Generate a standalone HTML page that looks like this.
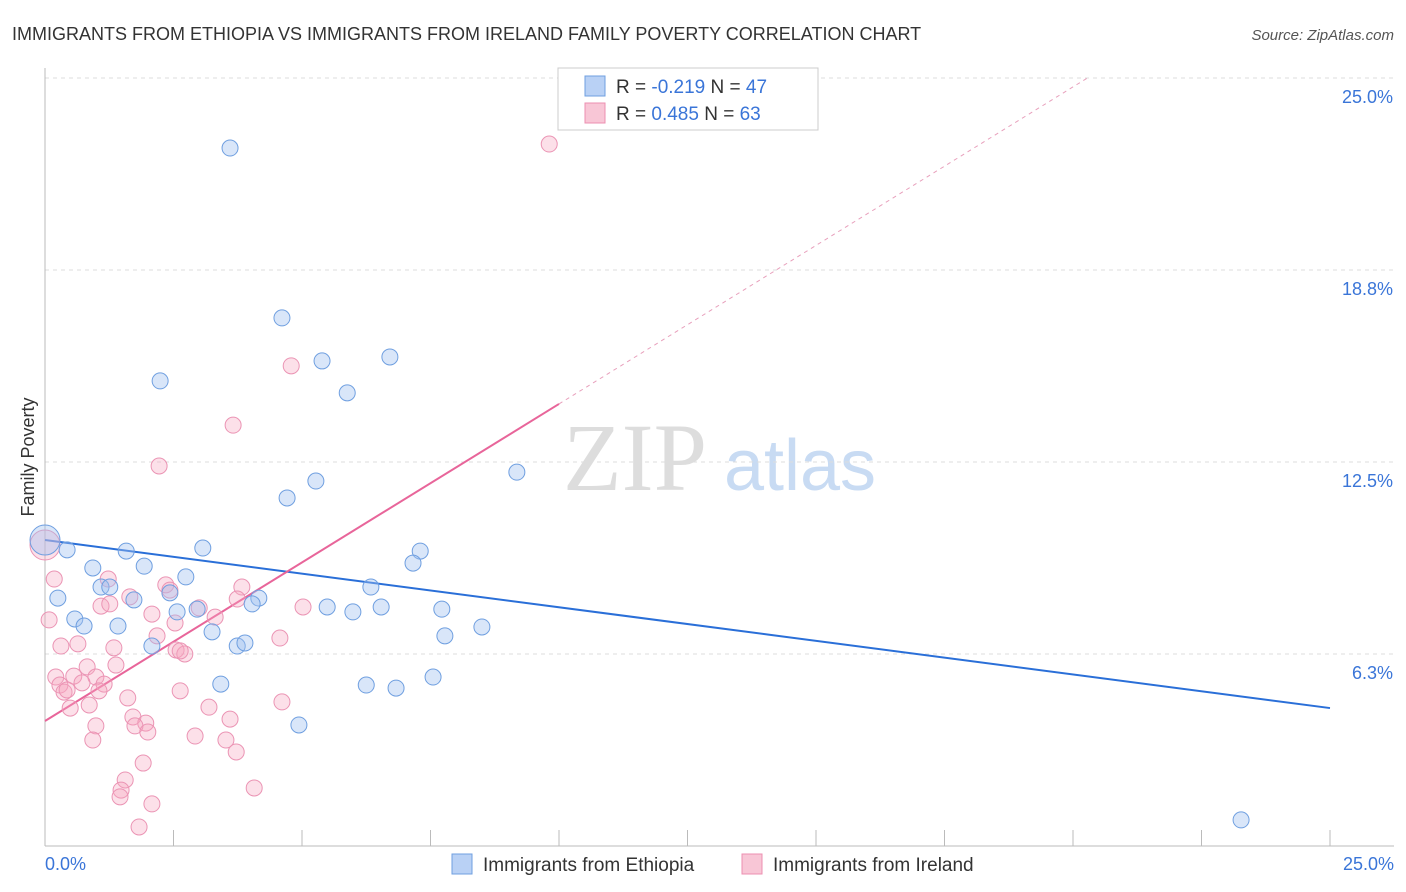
<!DOCTYPE html>
<html><head><meta charset="utf-8"><style>
body{margin:0;background:#fff;font-family:"Liberation Sans",sans-serif;}
#wrap{position:relative;width:1406px;height:892px;overflow:hidden}
</style></head><body>
<div id="wrap">
<svg id="svg" width="1406" height="892" xmlns="http://www.w3.org/2000/svg">
<text x="12" y="40" font-size="18" fill="#333">IMMIGRANTS FROM ETHIOPIA VS IMMIGRANTS FROM IRELAND FAMILY POVERTY CORRELATION CHART</text>
<text x="1394" y="40" font-size="15" fill="#555" font-style="italic" text-anchor="end">Source: ZipAtlas.com</text>
<text x="34" y="457" font-size="18" fill="#333" transform="rotate(-90 34 457)" text-anchor="middle">Family Poverty</text>
<g><text x="635" y="490" font-family="Liberation Serif,serif" font-size="96" fill="#ddd" text-anchor="middle">ZIP</text><text x="800" y="490" font-size="72" fill="#c8dbf3" text-anchor="middle">atlas</text></g>
<g id="grid"></g><g id="axes"></g><g id="lines"></g><g id="pts"></g>
<g>
<rect x="558" y="68" width="260" height="62" fill="#fff" stroke="#ccc"/>
<rect x="585" y="76" width="20" height="20" fill="#b9d1f5" stroke="#6f9fe0"/>
<text x="616" y="93" font-size="19" fill="#333">R = <tspan fill="#3a75d8">-0.219</tspan>   N = <tspan fill="#3a75d8">47</tspan></text>
<rect x="585" y="103" width="20" height="20" fill="#f8c6d6" stroke="#ec8fb0"/>
<text x="616" y="120" font-size="19" fill="#333">R =  <tspan fill="#3a75d8">0.485</tspan>   N = <tspan fill="#3a75d8">63</tspan></text>
</g>
<g>
<rect x="452" y="854" width="20" height="20" fill="#b9d1f5" stroke="#6f9fe0"/>
<text x="483" y="871" font-size="19" fill="#333">Immigrants from Ethiopia</text>
<rect x="742" y="854" width="20" height="20" fill="#f8c6d6" stroke="#ec8fb0"/>
<text x="773" y="871" font-size="19" fill="#333">Immigrants from Ireland</text>
</g>
</svg></div>
<script>
const yTicks=[25.0,18.8,12.5,6.3];
const yTickVals=[25,18.75,12.5,6.25];
const xTickLabels=["0.0%","25.0%"];
const blueX=[3.60,4.61,2.24,5.39,6.71,5.88,9.18,5.27,4.71,0,0.43,1.58,3.07,7.30,0.93,1.93,7.16,2.74,6.34,1.09,1.26,0.25,1.73,2.43,4.16,4.03,2.96,2.57,5.49,5.99,6.54,7.72,0.58,0.76,1.42,3.25,8.50,7.78,2.08,3.74,3.89,3.42,6.25,6.83,7.55,4.94,23.27];
const blueY=[22.72,17.19,15.14,15.79,15.92,14.75,12.17,11.88,11.33,9.96,9.64,9.60,9.70,9.60,9.05,9.11,9.21,8.76,8.43,8.43,8.43,8.07,8.01,8.24,8.07,7.88,7.71,7.62,7.78,7.62,7.78,7.71,7.39,7.16,7.16,6.97,7.13,6.84,6.51,6.51,6.61,5.27,5.24,5.14,5.50,3.94,0.85];
const pinkX=[9.81,4.79,3.66,2.22,0,0.18,1.23,3.83,2.35,2.43,1.65,3.74,1.09,1.26,3.00,5.02,0.08,2.08,2.53,3.31,2.18,4.57,0.31,0.64,1.34,2.55,2.72,2.63,0.82,1.38,0.21,0.56,0.99,0.72,1.15,0.29,0.37,0.43,1.05,1.61,2.63,4.61,0.49,0.86,3.19,1.71,3.60,0.99,1.96,1.75,2.00,2.92,3.52,0.93,3.72,1.91,1.56,4.07,1.48,1.46,2.08,1.83];
const pinkY=[22.85,15.63,13.70,12.37,9.80,8.69,8.69,8.43,8.50,8.33,8.11,8.04,7.81,7.88,7.75,7.78,7.36,7.55,7.26,7.45,6.84,6.77,6.51,6.58,6.45,6.38,6.25,6.35,5.83,5.89,5.50,5.53,5.50,5.31,5.27,5.24,5.01,5.08,5.05,4.82,5.05,4.69,4.49,4.59,4.52,4.20,4.13,3.91,4.00,3.91,3.71,3.58,3.45,3.45,3.06,2.70,2.15,1.89,1.82,1.60,1.37,0.62];
const blueTrend=[9.96,4.49];
const pinkTrend=[4.07,1.032];
const NS="http://www.w3.org/2000/svg";
const X=v=>45+v*51.4, Y=v=>846-v*30.72;
function mk(t,a,p){const e=document.createElementNS(NS,t);for(const k in a)e.setAttribute(k,a[k]);document.getElementById(p).appendChild(e);return e;}
yTickVals.forEach((v,i)=>{
 const g=mk('line',{x1:45,x2:1394,y1:Y(v),y2:Y(v),stroke:'#ddd','stroke-dasharray':'4,4'},'grid');
 
 
 const t=mk('text',{x:1393,y:Y(v)+25,'text-anchor':'end','font-size':18,fill:'#3a75d8'},'grid');
 t.textContent=yTicks[i].toFixed(1)+'%';
 
 
});
const ax=mk('line',{x1:45,x2:45,y1:68,y2:846,stroke:'#bbb'},'axes');


const bx=mk('line',{x1:45,x2:1394,y1:846,y2:846,stroke:'#bbb'},'axes');


for(let i=0;i<=10;i++){const t=mk('line',{x1:X(i*2.5),x2:X(i*2.5),y1:830,y2:846,stroke:'#bbb'},'axes');
 
 }
[[0,'start',45],[25,'end',1394]].forEach((d,i)=>{const t=mk('text',{x:d[2],y:870,'text-anchor':d[1],'font-size':18,fill:'#3a75d8'},'axes');t.textContent=xTickLabels[i];
 
 });
const bl=mk('line',{x1:X(0),y1:Y(blueTrend[0]),x2:X(25),y2:Y(blueTrend[1]),stroke:'#2a6fd8','stroke-width':2},'lines');


const pl=mk('line',{x1:X(0),y1:Y(pinkTrend[0]),x2:X(10),y2:Y(pinkTrend[0]+10*pinkTrend[1]),stroke:'#e8659a','stroke-width':2},'lines');


const xe=(25-pinkTrend[0])/pinkTrend[1];
const pd=mk('line',{x1:X(10),y1:Y(pinkTrend[0]+10*pinkTrend[1]),x2:X(xe),y2:Y(25),stroke:'#e8a0bc','stroke-width':1,'stroke-dasharray':'4,4'},'lines');


function pts(xs,ys,fill,stroke,name){xs.forEach((x,i)=>{const big=(x===0);const c=mk('circle',{cx:X(x),cy:Y(ys[i]),r:big?15:8,fill:fill,stroke:stroke,'stroke-width':1},'pts');
 
 });}
pts(pinkX,pinkY,'rgba(245,165,192,0.35)','#eb94b4','ireland-point');
pts(blueX,blueY,'rgba(160,192,240,0.4)','#6f9fe0','ethiopia-point');
</script>
</body></html>
